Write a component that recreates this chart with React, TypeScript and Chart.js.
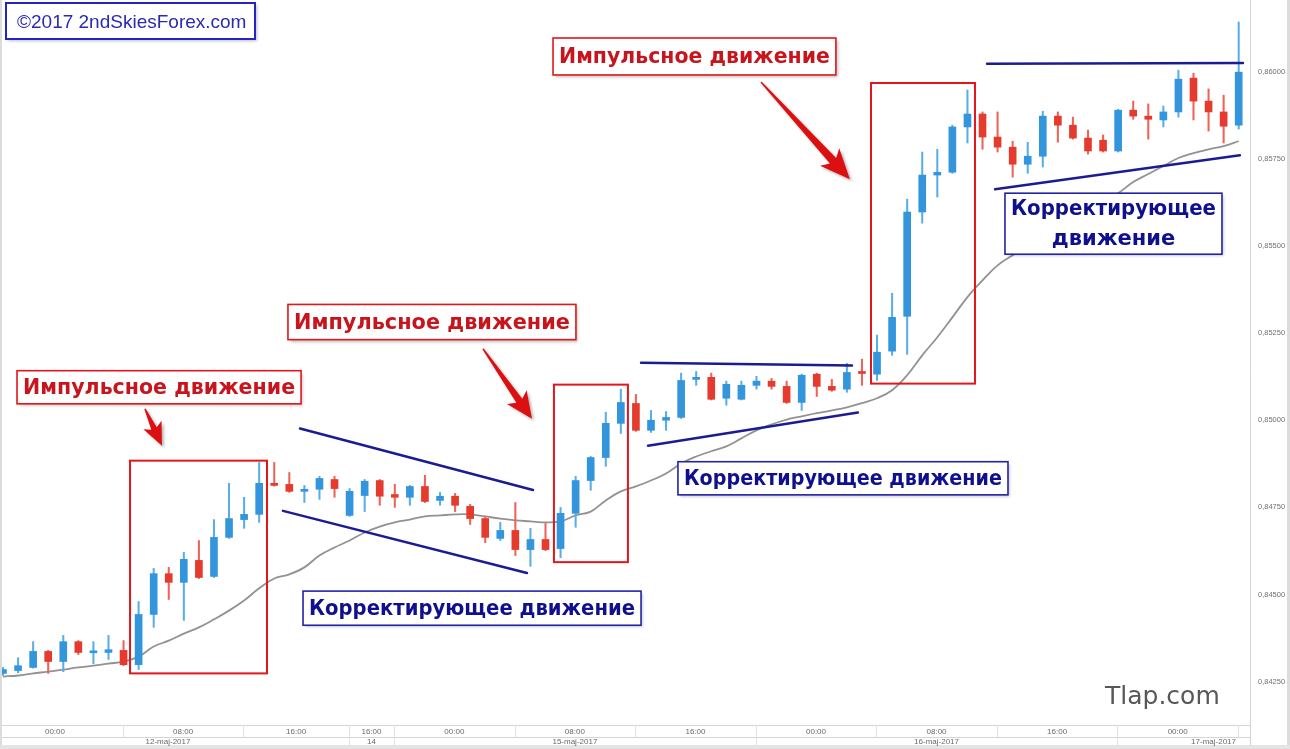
import React, { useEffect, useRef } from "react";
import { Chart, registerables } from "chart.js";

Chart.register(...registerables);

// ---------- DATA (hourly candles) ----------
const candleOpen = [
  0.84274, 0.84282, 0.84291, 0.84337, 0.84308, 0.84365, 0.84333, 0.84334, 0.8434, 0.84299,
  0.84443, 0.8456, 0.84535, 0.84598, 0.84552, 0.84664, 0.84715, 0.8473, 0.84819, 0.84816,
  0.84796, 0.84802, 0.8483, 0.84727, 0.84784, 0.84827, 0.84787, 0.84779, 0.8481, 0.8477,
  0.84782, 0.84753, 0.84718, 0.84661, 0.84684, 0.84629, 0.84658, 0.84632, 0.84733, 0.84827,
  0.84893, 0.84991, 0.85048, 0.84971, 0.85, 0.85008, 0.85117, 0.85123, 0.85063, 0.8506,
  0.851, 0.85112, 0.85097, 0.85051, 0.85132, 0.85097, 0.85089, 0.85137, 0.85132, 0.85198,
  0.85298, 0.85597, 0.85703, 0.85711, 0.85841, 0.85878, 0.85812, 0.85783, 0.85734, 0.85757,
  0.85872, 0.85846, 0.85809, 0.85803, 0.85772, 0.85889, 0.85872, 0.85861, 0.85884, 0.85981,
  0.85915, 0.85884, 0.85846,
];
const candleHigh = [
  0.84291, 0.84319, 0.84365, 0.8434, 0.84383, 0.84368, 0.84365, 0.84383, 0.84368, 0.8448,
  0.84575, 0.84578, 0.84621, 0.84655, 0.84715, 0.84819, 0.84779, 0.84879, 0.84879, 0.8485,
  0.84813, 0.84839, 0.84839, 0.84804, 0.8483, 0.8483, 0.84816, 0.84813, 0.84842, 0.84793,
  0.8479, 0.84759, 0.84724, 0.84707, 0.84764, 0.8469, 0.84704, 0.8475, 0.84839, 0.84896,
  0.85023, 0.85089, 0.85074, 0.85028, 0.85025, 0.85135, 0.8514, 0.85135, 0.85112, 0.85112,
  0.85126, 0.8512, 0.85112, 0.85132, 0.85135, 0.85117, 0.85163, 0.85175, 0.85244, 0.85364,
  0.85634, 0.85769, 0.85777, 0.85846, 0.85947, 0.85884, 0.85884, 0.858, 0.85797, 0.85886,
  0.85884, 0.85869, 0.85832, 0.85818, 0.85892, 0.85915, 0.85907, 0.85901, 0.86004, 0.85995,
  0.8595, 0.85932, 0.86142,
];
const candleLow = [
  0.84268, 0.84276, 0.84289, 0.84274, 0.84279, 0.84328, 0.84302, 0.84314, 0.84296, 0.84285,
  0.84406, 0.84486, 0.84426, 0.84546, 0.84549, 0.84661, 0.8469, 0.84707, 0.84811, 0.84793,
  0.84764, 0.84773, 0.84779, 0.84724, 0.84738, 0.84756, 0.8475, 0.84756, 0.84764, 0.84756,
  0.84738, 0.84701, 0.84649, 0.84655, 0.84612, 0.84581, 0.84626, 0.84606, 0.84693, 0.84799,
  0.84868, 0.84962, 0.84968, 0.84965, 0.84971, 0.85005, 0.851, 0.85058, 0.85043, 0.85058,
  0.85089, 0.85089, 0.85048, 0.85028, 0.85068, 0.85083, 0.8508, 0.851, 0.85114, 0.85186,
  0.85189, 0.85565, 0.8564, 0.85708, 0.85795, 0.85777, 0.85769, 0.85697, 0.85708, 0.85726,
  0.85797, 0.85806, 0.85763, 0.85769, 0.85769, 0.85863, 0.85806, 0.85841, 0.85869, 0.85861,
  0.85829, 0.85795, 0.85835,
];
const candleClose = [
  0.84285, 0.84296, 0.84337, 0.84308, 0.84365, 0.84334, 0.84335, 0.84342, 0.84299, 0.84443,
  0.8456, 0.84535, 0.84601, 0.84549, 0.84664, 0.84718, 0.8473, 0.84819, 0.84813, 0.84796,
  0.84802, 0.84833, 0.84804, 0.84796, 0.84825, 0.84782, 0.84779, 0.8481, 0.84767, 0.84782,
  0.84756, 0.84718, 0.84664, 0.84684, 0.84629, 0.84658, 0.84629, 0.84733, 0.84827, 0.84893,
  0.84991, 0.85051, 0.84971, 0.85, 0.85008, 0.85114, 0.85123, 0.8506, 0.85103, 0.851,
  0.85112, 0.85097, 0.85051, 0.85129, 0.85097, 0.85086, 0.85137, 0.85134, 0.85195, 0.85295,
  0.85597, 0.85703, 0.85711, 0.85841, 0.85878, 0.85812, 0.85783, 0.85734, 0.85757, 0.85872,
  0.85846, 0.85809, 0.85772, 0.85772, 0.85889, 0.85872, 0.85863, 0.85884, 0.85978, 0.85915,
  0.85884, 0.85843, 0.85998,
];
const movingAverage = [
  0.84265, 0.84268, 0.84274, 0.84279, 0.84285, 0.84291, 0.84296, 0.84302, 0.84308, 0.84322,
  0.84351, 0.84368, 0.84388, 0.84406, 0.84429, 0.84454, 0.84483, 0.84518, 0.84546, 0.84558,
  0.84578, 0.84612, 0.84635, 0.84655, 0.84678, 0.84695, 0.84707, 0.84715, 0.84724, 0.84727,
  0.8473, 0.8473, 0.84724, 0.84718, 0.84713, 0.8471, 0.84707, 0.8471, 0.84727, 0.84738,
  0.8477, 0.84796, 0.8481, 0.84827, 0.84847, 0.84876, 0.84896, 0.84911, 0.84925, 0.84948,
  0.84971, 0.84988, 0.85002, 0.85011, 0.8502, 0.85028, 0.85037, 0.85049, 0.85063, 0.85086,
  0.85129, 0.85186, 0.85238, 0.85295, 0.85353, 0.85401, 0.85444, 0.85473, 0.85496, 0.85516,
  0.85539, 0.85574, 0.85602, 0.85628, 0.85651, 0.85683, 0.85706, 0.85729, 0.85752, 0.85766,
  0.85777, 0.85786, 0.858,
];
const priceTicks = [0.8425, 0.845, 0.8475, 0.85, 0.8525, 0.855, 0.8575, 0.86];
const timeLabels = ["00:00", "08:00", "16:00", "16:00", "00:00", "08:00", "16:00", "00:00", "08:00", "16:00", "00:00"];
const timeBounds = [-1.05, 7.95, 15.95, 22.95, 25.95, 33.95, 41.95, 49.95, 57.95, 65.95, 73.95, 81.95];
const dateLabels = ["12-maj-2017", "14", "15-maj-2017", "16-maj-2017", "17-maj-2017"];
const dateBounds = [-1.05, 22.95, 25.95, 49.95, 73.95, 97.95];

// ---------- ANNOTATIONS (in data coordinates: candle index, price) ----------
const impulseBoxes = [
  [8.43, 17.52, 0.84884, 0.84274],
  [36.56, 41.47, 0.85102, 0.84593],
  [57.6, 64.5, 0.85967, 0.85105],
];
const trendLines = [
  [19.71, 0.84976, 35.17, 0.848],
  [18.58, 0.8474, 34.77, 0.84562],
  [42.34, 0.85165, 56.34, 0.85157],
  [42.8, 0.84927, 56.73, 0.85022],
  [65.3, 0.86022, 82.28, 0.86024],
  [65.83, 0.85662, 82.08, 0.8576],
];
const arrowPoints = [
  [9.42, 0.85033, 10.55, 0.84927],
  [31.85, 0.85205, 35.1, 0.85004],
  [50.3, 0.8597, 56.2, 0.85691],
];
const impulseText = "Импульсное движение";
const correctionText = ["Корректирующее движение"];
const correctionText2 = ["Корректирующее", "движение"];
const labelBoxes = [
  { lines: [impulseText], kind: "impulse", x1: 0.93, x2: 19.78, y1: 0.85142, y2: 0.85047 },
  { lines: [impulseText], kind: "impulse", x1: 18.91, x2: 38.02, y1: 0.85332, y2: 0.85231 },
  { lines: [impulseText], kind: "impulse", x1: 36.5, x2: 55.27, y1: 0.86096, y2: 0.8599 },
  { lines: correctionText, kind: "correction", x1: 19.91, x2: 42.34, y1: 0.8451, y2: 0.84412 },
  { lines: correctionText, kind: "correction", x1: 44.79, x2: 66.69, y1: 0.84881, y2: 0.84786 },
  { lines: correctionText2, kind: "correction", x1: 66.49, x2: 80.89, y1: 0.85651, y2: 0.85476 },
];

// ---------- STYLES ----------
const UP_BODY = "#3396dc";
const DOWN_BODY = "#e53b2f";
const UP_WICK = "#5aaee8";
const DOWN_WICK = "#ee6258";
const IMPULSE_RED = "#e2161c";
const IMPULSE_TEXT = "#c8141c";
const CORR_BLUE = "#2323a8";
const CORR_TEXT = "#10108e";
const TREND_BLUE = "#1c1c92";
const arrowSizes = [
  [19, 10, 3],
  [22, 12, 3.6],
  [25, 13, 4.2],
];

const idx = candleOpen.map((_, i) => i);
const isUp = idx.map((i) => candleClose[i] >= candleOpen[i]);

const annotationPlugin = {
  id: "fxAnnotations",
  afterDatasetsDraw(chart: any) {
    const { ctx, scales } = chart;
    const X = (v: number) => scales.x.getPixelForValue(v);
    const Y = (v: number) => scales.y.getPixelForValue(v);
    ctx.save();

    ctx.strokeStyle = TREND_BLUE;
    ctx.lineWidth = 2.5;
    ctx.lineCap = "round";
    for (const [a, b, c, d] of trendLines) {
      ctx.beginPath();
      ctx.moveTo(X(a), Y(b));
      ctx.lineTo(X(c), Y(d));
      ctx.stroke();
    }

    ctx.strokeStyle = IMPULSE_RED;
    ctx.lineWidth = 2;
    for (const [a, b, c, d] of impulseBoxes) {
      const x1 = X(a), x2 = X(b), y1 = Y(c), y2 = Y(d);
      ctx.strokeRect(x1, y1, x2 - x1, y2 - y1);
    }

    arrowPoints.forEach(([a, b, c, d], k) => {
      const [headLen, headHalf, shaftHalf] = arrowSizes[k];
      const x1 = X(a), y1 = Y(b), x2 = X(c), y2 = Y(d);
      const dx = x2 - x1, dy = y2 - y1;
      const L = Math.hypot(dx, dy);
      const ux = dx / L, uy = dy / L;
      const nx = -uy, ny = ux;
      const bx = x2 - ux * headLen, by = y2 - uy * headLen;
      const back = headLen * 0.2;
      ctx.save();
      ctx.shadowColor = "rgba(0,0,0,0.3)";
      ctx.shadowBlur = 3;
      ctx.shadowOffsetX = 2;
      ctx.shadowOffsetY = 2;
      ctx.fillStyle = "#dc1010";
      ctx.beginPath();
      ctx.moveTo(x1 + nx * 0.7, y1 + ny * 0.7);
      ctx.lineTo(bx + nx * shaftHalf, by + ny * shaftHalf);
      ctx.lineTo(bx - ux * back + nx * headHalf, by - uy * back + ny * headHalf);
      ctx.lineTo(x2, y2);
      ctx.lineTo(bx - ux * back - nx * headHalf, by - uy * back - ny * headHalf);
      ctx.lineTo(bx - nx * shaftHalf, by - ny * shaftHalf);
      ctx.lineTo(x1 - nx * 0.7, y1 - ny * 0.7);
      ctx.closePath();
      ctx.fill();
      ctx.restore();
    });

    for (const lb of labelBoxes) {
      const x1 = X(lb.x1), x2 = X(lb.x2), y1 = Y(lb.y1), y2 = Y(lb.y2);
      const imp = lb.kind === "impulse";
      ctx.save();
      ctx.shadowColor = "rgba(0,0,0,0.25)";
      ctx.shadowBlur = 3;
      ctx.shadowOffsetX = 2;
      ctx.shadowOffsetY = 2;
      ctx.fillStyle = "#ffffff";
      ctx.fillRect(x1, y1, x2 - x1, y2 - y1);
      ctx.restore();
      ctx.strokeStyle = imp ? IMPULSE_RED : CORR_BLUE;
      ctx.lineWidth = 1.6;
      ctx.strokeRect(x1, y1, x2 - x1, y2 - y1);
      ctx.fillStyle = imp ? IMPULSE_TEXT : CORR_TEXT;
      ctx.font = 'bold 21px "DejaVu Sans"';
      ctx.textAlign = "center";
      ctx.textBaseline = "middle";
      const cx = (x1 + x2) / 2;
      const h = (y2 - y1) / lb.lines.length;
      lb.lines.forEach((t, j) => {
        ctx.fillText(t, cx, y1 + h * (j + 0.5) + 1, x2 - x1 - 12);
      });
    }
    ctx.restore();
  },
  afterDraw(chart: any) {
    const { ctx, chartArea, scales } = chart;
    const X = (v: number) => scales.x.getPixelForValue(v);
    const { left, right, bottom } = chartArea;
    const W = chart.width, H = chart.height;
    ctx.save();
    ctx.fillStyle = "#dcdcdc";
    ctx.fillRect(0, 0, 2, H);
    ctx.fillRect(W - 3, 0, 3, H);
    ctx.fillStyle = "#e4e4e4";
    ctx.fillRect(0, H - 4, W, 4);
    ctx.strokeStyle = "#d4d4d4";
    ctx.lineWidth = 1;
    ctx.beginPath();
    ctx.moveTo(right + 0.5, 0);
    ctx.lineTo(right + 0.5, H - 4);
    ctx.moveTo(left, bottom + 0.5);
    ctx.lineTo(right, bottom + 0.5);
    ctx.moveTo(left, bottom + 12.5);
    ctx.lineTo(right, bottom + 12.5);
    ctx.stroke();

    ctx.strokeStyle = "#e2e2e2";
    ctx.beginPath();
    timeBounds.forEach((b, i) => {
      if (i === 0) return;
      const px = Math.round(X(b)) + 0.5;
      ctx.moveTo(px, bottom);
      ctx.lineTo(px, bottom + 12);
    });
    dateBounds.forEach((b, i) => {
      if (i === 0) return;
      const px = Math.round(X(b)) + 0.5;
      if (px > right) return;
      ctx.moveTo(px, bottom + 12);
      ctx.lineTo(px, H - 4);
    });
    ctx.stroke();

    ctx.fillStyle = "#6a6a6a";
    ctx.font = '8px "Liberation Sans"';
    ctx.textAlign = "center";
    ctx.textBaseline = "middle";
    timeLabels.forEach((t, i) => {
      const cx = (X(timeBounds[i]) + X(timeBounds[i + 1])) / 2;
      ctx.fillText(t, cx, bottom + 6.5);
    });
    dateLabels.forEach((t, i) => {
      let cx = (X(dateBounds[i]) + X(dateBounds[i + 1])) / 2;
      const w = ctx.measureText(t).width;
      cx = Math.min(cx, right - w / 2 - 14);
      ctx.fillText(t, cx, bottom + 17);
    });

    ctx.save();
    ctx.shadowColor = "rgba(0,0,0,0.25)";
    ctx.shadowBlur = 3;
    ctx.shadowOffsetX = 2;
    ctx.shadowOffsetY = 2;
    ctx.fillStyle = "#fff";
    ctx.fillRect(6, 3, 249, 36);
    ctx.restore();
    ctx.strokeStyle = "#2424c4";
    ctx.lineWidth = 2;
    ctx.strokeRect(6, 3, 249, 36);
    ctx.fillStyle = "#2a2ab4";
    ctx.font = '19px "Liberation Sans"';
    ctx.textAlign = "left";
    ctx.textBaseline = "alphabetic";
    ctx.fillText("©2017 2ndSkiesForex.com", 17, 28);

    ctx.fillStyle = "#585858";
    ctx.font = '25px "DejaVu Sans"';
    ctx.fillText("Tlap.com", 1105, 704);
    ctx.restore();
  },
};

export default function App() {
  const ref = useRef<HTMLCanvasElement | null>(null);
  useEffect(() => {
    if (!ref.current) return;
    const chart = new Chart(ref.current, {
      type: "bar",
      data: {
        datasets: [
          {
            type: "line",
            data: idx.map((i) => ({ x: i, y: movingAverage[i] })),
            borderColor: "#929292",
            borderWidth: 1.8,
            pointRadius: 0,
            tension: 0.4,
            order: 3,
          } as any,
          {
            data: idx.map((i) => ({ x: i, y: [candleLow[i], candleHigh[i]] })),
            backgroundColor: idx.map((i) => (isUp[i] ? UP_WICK : DOWN_WICK)),
            barThickness: 1.4,
            grouped: false,
            borderWidth: 0,
            order: 2,
          } as any,
          {
            data: idx.map((i) => ({ x: i, y: [candleOpen[i], candleClose[i]] })),
            backgroundColor: idx.map((i) => (isUp[i] ? UP_BODY : DOWN_BODY)),
            barThickness: 7,
            grouped: false,
            borderWidth: 0,
            minBarLength: 2,
            order: 1,
          } as any,
        ],
      },
      options: {
        responsive: false,
        animation: false,
        devicePixelRatio: 1,
        layout: { padding: { left: 2, top: 0, right: 0, bottom: 24 } },
        plugins: { legend: { display: false }, tooltip: { enabled: false } },
        scales: {
          x: {
            type: "linear",
            min: -0.066,
            max: 82.75,
            display: false,
            offset: false,
          },
          y: {
            position: "right",
            min: 0.84126,
            max: 0.86205,
            grid: { display: false, drawTicks: false },
            border: { display: false },
            afterBuildTicks: (s: any) => {
              s.ticks = priceTicks.map((v) => ({ value: v }));
            },
            afterFit: (s: any) => {
              s.width = 40;
              s.paddingTop = 0;
              s.paddingBottom = 0;
            },
            ticks: {
              padding: 8,
              color: "#707070",
              font: { family: "Liberation Sans", size: 7.5 },
              callback: (v: any) => Number(v).toFixed(5).replace(".", ","),
            },
          },
        },
      },
      plugins: [annotationPlugin],
    });
    return () => chart.destroy();
  }, []);
  return (
    <div style={{ position: "absolute", left: 0, top: 0, width: 1290, height: 749, background: "#fff" }}>
      <canvas ref={ref} width={1290} height={749} style={{ display: "block", width: 1290, height: 749 }} />
    </div>
  );
}
